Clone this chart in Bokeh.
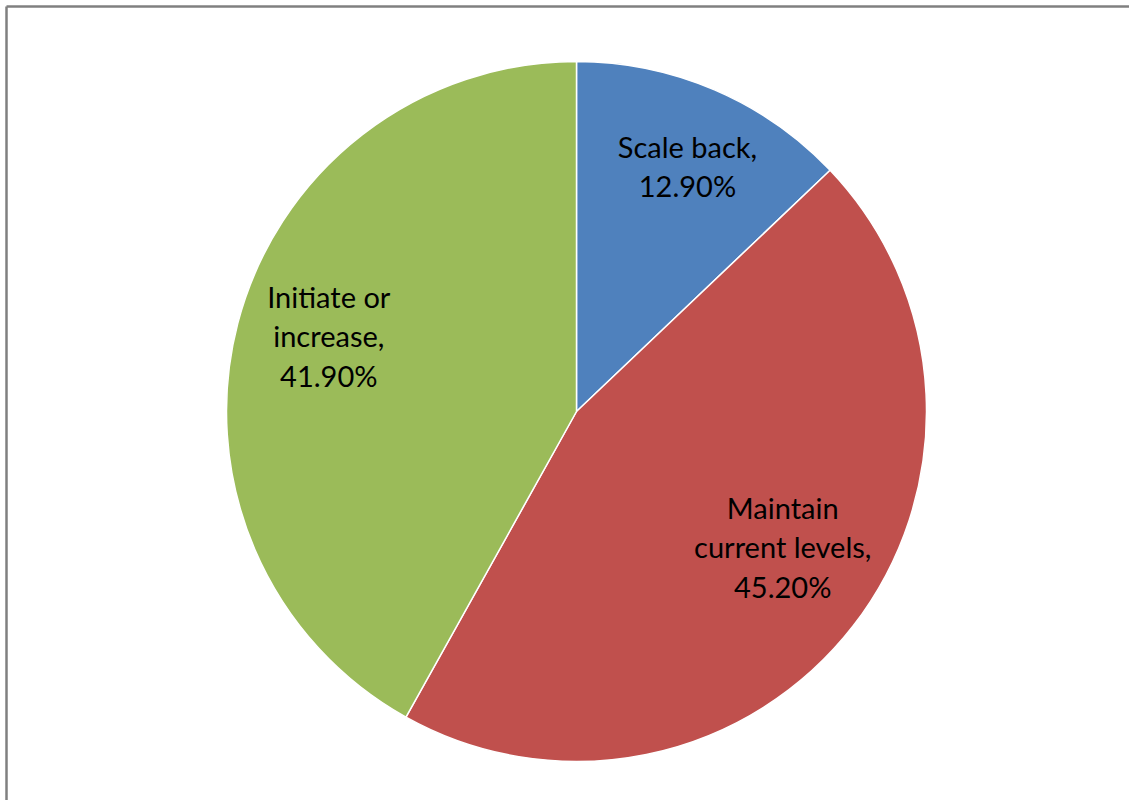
import numpy as np
from bokeh.plotting import figure
from bokeh.models import Range1d, ColumnDataSource
from bokeh.core.properties import value
from bokeh.embed import file_html
from bokeh.resources import INLINE

categories = ["Scale back", "Maintain current levels", "Initiate or increase"]
shares = [12.9, 45.2, 41.9]
label_texts = ["Scale back,\n12.90%", "Maintain\ncurrent levels,\n45.20%", "Initiate or\nincrease,\n41.90%"]
colors = ["#4F81BD", "#C0504D", "#9BBB59"]

W, H = 1129, 800
p = figure(width=W, height=H, output_backend="svg", toolbar_location=None,
           x_range=Range1d(0, W), y_range=Range1d(0, H), min_border=0)
p.axis.visible = False
p.grid.visible = False
p.outline_line_color = None
p.background_fill_color = "white"
p.border_fill_color = "white"

def Y(sy):
    return H - sy

# chart frame (left and top edges visible; the rest extends past the view)
p.segment(x0=[6, 6], y0=[Y(6), Y(6)], x1=[6, W + 50], y1=[-50, Y(6)],
          line_color="#808080", line_width=2.5)

cx, cy, R = 576, Y(411), 350
frac = np.array(shares) / np.sum(shares)
cum = np.concatenate([[0], np.cumsum(frac)[:-1]])
start = np.pi / 2 - 2 * np.pi * cum
end = start - 2 * np.pi * frac
src = ColumnDataSource(dict(start=start, end=end, color=colors, cat=categories))
p.wedge(x=cx, y=cy, radius=R, start_angle="start", end_angle="end", direction="clock",
        fill_color="color", line_color="white", line_width=1.5, source=src)

mid = (start + end) / 2
r_frac = np.array([0.77, 0.705, 0.74])
d_ang = np.radians([-1.1, 4.5, -2.4])
lx = cx + R * r_frac * np.cos(mid + d_ang)
ly = cy + R * r_frac * np.sin(mid + d_ang)
p.text(x=lx, y=ly, text=label_texts, text_font=value("Lato"), text_font_size="29px",
       text_align="center", text_baseline="middle", text_color="black", text_line_height=1.12)

open("out.html", "w").write(file_html(p, INLINE))
